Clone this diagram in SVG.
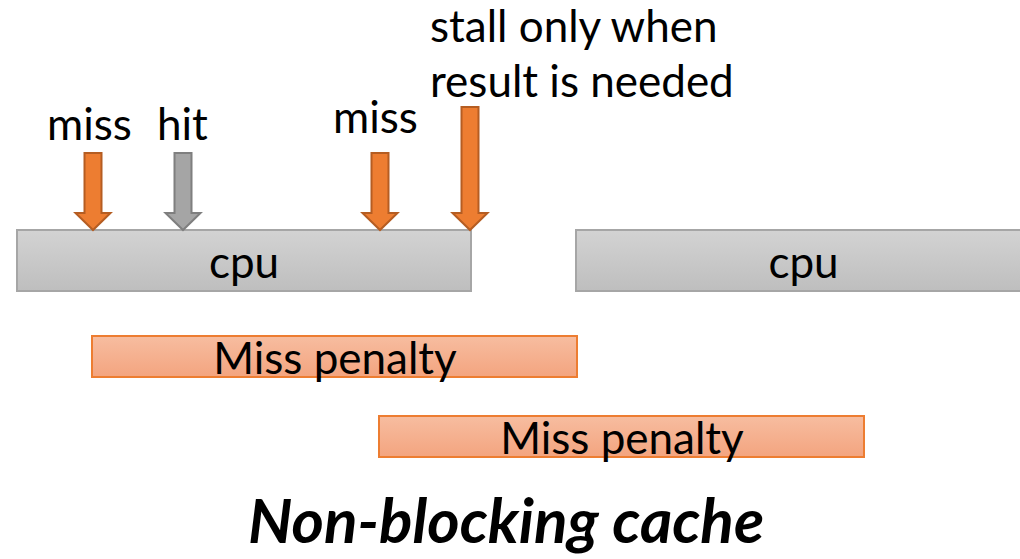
<svg xmlns="http://www.w3.org/2000/svg" width="1020" height="559" viewBox="0 0 1020 559">
  <defs>
    <linearGradient id="cpuFill" x1="0" y1="0" x2="0" y2="1">
      <stop offset="0" stop-color="#d3d3d3"/>
      <stop offset="1" stop-color="#bebebe"/>
    </linearGradient>
    <linearGradient id="penaltyFill" x1="0" y1="0" x2="0" y2="1">
      <stop offset="0" stop-color="#f7bda0"/>
      <stop offset="1" stop-color="#f3a47f"/>
    </linearGradient>
    <!-- block arrow pointing down, tip at (0,0) -->
    <path id="arrowShape" d="M-8.5,-77 H8.5 V-17 H17.5 L0,0 L-17.5,-17 H-8.5 Z"/>
    <path id="tallArrowShape" d="M-8.5,-123 H8.5 V-17 H17.5 L0,0 L-17.5,-17 H-8.5 Z"/>
  </defs>
  <style>
    text { font-family: Lato, "Liberation Sans", sans-serif; fill: #000; }
    .label { font-size: 44px; }
    .cpu { fill: url(#cpuFill); stroke: #a6a6a6; stroke-width: 2; }
    .penalty { fill: url(#penaltyFill); stroke: #ed7d31; stroke-width: 2; }
    .miss { fill: #ed7d31; stroke: #b55d22; stroke-width: 2; stroke-linejoin: miter; }
    .hit { fill: #a5a5a5; stroke: #7f7f7f; stroke-width: 2; stroke-linejoin: miter; }
    .title { font-size: 62px; font-weight: bold; font-style: italic; }
  </style>

  <!-- CPU execution bars -->
  <g id="cpu1">
    <rect class="cpu" x="17" y="230" width="454" height="61"/>
    <text class="label" x="244" y="278" text-anchor="middle">cpu</text>
  </g>
  <g id="cpu2">
    <rect class="cpu" x="576" y="230" width="455" height="61"/>
    <text class="label" x="803.5" y="278" text-anchor="middle">cpu</text>
  </g>

  <!-- Outstanding miss penalties -->
  <g id="penalty1">
    <rect class="penalty" x="92" y="336" width="485" height="41"/>
    <text class="label" x="335" y="374" text-anchor="middle">Miss penalty</text>
  </g>
  <g id="penalty2">
    <rect class="penalty" x="379" y="416" width="485" height="41"/>
    <text class="label" x="622" y="454" text-anchor="middle">Miss penalty</text>
  </g>

  <!-- Cache access events -->
  <g id="connectors">
    <use href="#arrowShape" class="miss" x="93" y="230"/>
    <use href="#arrowShape" class="hit" x="183" y="230"/>
    <use href="#arrowShape" class="miss" x="380" y="230"/>
    <use href="#tallArrowShape" class="miss" x="470" y="230"/>
  </g>

  <g id="labels">
    <text class="label" x="47" y="140">miss</text>
    <text class="label" x="157" y="140">hit</text>
    <text class="label" x="333" y="133">miss</text>
    <text class="label" x="430" y="42">stall only when</text>
    <text class="label" x="430" y="97">result is needed</text>
  </g>

  <g id="caption">
    <text class="title" x="506" y="543" text-anchor="middle">Non-blocking cache</text>
  </g>
</svg>
